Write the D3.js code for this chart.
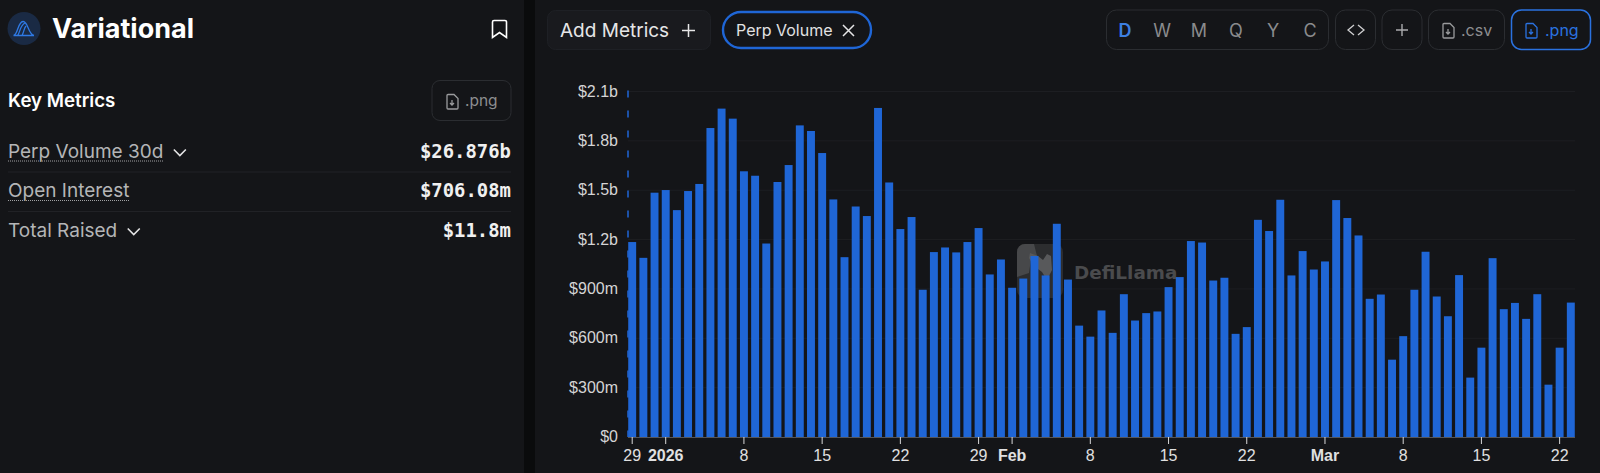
<!DOCTYPE html>
<html>
<head>
<meta charset="utf-8">
<script src="https://cdn.jsdelivr.net/npm/d3@7"></script>
<style>
html,body{margin:0;padding:0;background:#0a0b0c;overflow:hidden;}
svg{display:block;}
text{font-family:Inter,"Liberation Sans",sans-serif;}
</style>
</head>
<body>
<svg id="chart" width="1600" height="473"></svg>
<script>
// perp volume per day, in $m. starts on 29 Dec
var volumes = [1185,1089,1485,1501,1379,1495,1538,1878,1996,1935,1615,1588,1176,1550,1653,1894,1860,1726,1444,1093,1401,1343,2000,1547,1264,1337,895,1124,1152,1122,1185,1270,988,1079,907,963,1100,982,1296,957,677,610,769,633,868,708,753,763,911,972,1191,1182,951,968,627,668,1320,1252,1442,982,1130,1018,1067,1440,1331,1225,840,866,470,613,895,1126,854,734,984,361,543,1087,777,815,718,868,318,543,817];

var y_ticks = [0,300,600,900,1200,1500,1800,2100];
var y_labels = ["$0","$300m","$600m","$900m","$1.2b","$1.5b","$1.8b","$2.1b"];

// position in volumes -> label on the x axis
var x_tick_days = [0,3,10,17,24,31,34,41,48,55,62,69,76,83];
var x_tick_labels = ["29","2026","8","15","22","29","Feb","8","15","22","Mar","8","15","22"];
var x_bold_labels = ["2026","Feb","Mar"];

var metric_names = ["Perp Volume 30d","Open Interest","Total Raised"];
var metric_values = ["$26.876b","$706.08m","$11.8m"];
var period_names = ["D","W","M","Q","Y","C"];

var panel_bg = "#141518";
var blue = "#1f66d6";
var svg = d3.select("#chart");

// two panels
svg.append("rect").attr("x",-12).attr("y",-12).attr("width",536).attr("height",500).attr("rx",12).attr("fill",panel_bg);
svg.append("rect").attr("x",535).attr("y",-12).attr("width",1080).attr("height",500).attr("rx",12).attr("fill",panel_bg);

/* ---------- left side ---------- */
var left = svg.append("g");

left.append("circle").attr("cx",24).attr("cy",28.5).attr("r",16.5).attr("fill","#1a2a44");
left.append("path")
    .attr("d","M13.5 35.5 C18 35 17.5 22 23 21.5 C28 21 28 34 34 35.5 M17.5 35.5 C20 33 20 25 25 23 M22 35.5 C24 32 24 28 26 26 M13.5 35.5 H34")
    .attr("fill","none").attr("stroke","#2f7ae5").attr("stroke-width",1.3);

left.append("text").attr("x",52).attr("y",38).text("Variational")
    .attr("fill","#fff").attr("font-size",27).attr("font-weight",700);

// bookmark
left.append("path").attr("d","M494 20.5 h11 a1.5 1.5 0 0 1 1.5 1.5 v15.5 l-7 -5 l-7 5 v-15.5 a1.5 1.5 0 0 1 1.5 -1.5 z")
    .attr("fill","none").attr("stroke","#fff").attr("stroke-width",1.6);

left.append("text").attr("x",8).attr("y",107).text("Key Metrics")
    .attr("fill","#fff").attr("font-size",18.7).attr("font-weight",600);

function file_icon(g,x,y,color){
    var i = g.append("g").attr("transform","translate("+x+","+y+")")
        .attr("fill","none").attr("stroke",color).attr("stroke-width",1.3);
    i.append("path").attr("d","M1 1.5 a1 1 0 0 1 1 -1 h6 l4 4 v9.5 a1 1 0 0 1 -1 1 h-9 a1 1 0 0 1 -1 -1 z");
    i.append("path").attr("d","M6 6 v5 M4 9 l2 2 l2 -2");
}

left.append("rect").attr("x",432).attr("y",80.5).attr("width",79).attr("height",40).attr("rx",8)
    .attr("fill","none").attr("stroke","#2b2d31");
file_icon(left,446,94,"#9a9b9d");
left.append("text").attr("x",465).attr("y",106).text(".png").attr("fill","#8d8e90").attr("font-size",15.5);

var row_y = [157.5,197,236.5];
metric_names.forEach(function(d,i){
    var t = left.append("text").attr("x",8).attr("y",row_y[i]).text(d)
        .attr("fill","#b4b5b7").attr("font-size",19);
    var w = t.node().getComputedTextLength();
    if(i<2){
        left.append("line").attr("x1",8).attr("x2",8+w).attr("y1",row_y[i]+3.5).attr("y2",row_y[i]+3.5)
            .attr("stroke","#a0a1a3").attr("stroke-dasharray","1 1");
    }
    if(i!=1){
        var cx = 8+w+16.5;
        left.append("path").attr("d","M"+(cx-6)+" "+(row_y[i]-8)+" l6 6 l6 -6")
            .attr("fill","none").attr("stroke","#e4e4e5").attr("stroke-width",1.6);
    }
    left.append("text").attr("x",511).attr("y",row_y[i]).attr("text-anchor","end").text(metric_values[i])
        .attr("fill","#f0f0f0").attr("font-size",18.9).attr("font-weight",700)
        .style("font-family","'DejaVu Sans Mono','Liberation Mono',monospace");
    if(i<2){
        left.append("line").attr("x1",8).attr("x2",511).attr("y1",row_y[i]+14.5).attr("y2",row_y[i]+14.5)
            .attr("stroke","#212226");
    }
});

/* ---------- top buttons ---------- */
var top_bar = svg.append("g");

top_bar.append("rect").attr("x",547.5).attr("y",10.5).attr("width",163).attr("height",39).attr("rx",8)
    .attr("fill","#191a1e").attr("stroke","#1e2025");
top_bar.append("text").attr("x",560).attr("y",36.5).text("Add Metrics").attr("fill","#e6e6e7").attr("font-size",19);
top_bar.append("path").attr("d","M682 30.5 h13 M688.5 24 v13").attr("stroke","#e6e6e7").attr("stroke-width",1.5);

top_bar.append("rect").attr("x",723).attr("y",12).attr("width",148).attr("height",36).attr("rx",18)
    .attr("fill","none").attr("stroke",blue).attr("stroke-width",2.4);
top_bar.append("text").attr("x",736).attr("y",35.5).text("Perp Volume").attr("fill","#e2e2e3").attr("font-size",16);
top_bar.append("path").attr("d","M843 25 l11 11 M854 25 l-11 11").attr("stroke","#e6e6e7").attr("stroke-width",1.5);

var btn_stroke = "#2b2d31";
top_bar.append("rect").attr("x",1106.5).attr("y",10).attr("width",222).attr("height",39.5).attr("rx",10)
    .attr("fill","none").attr("stroke",btn_stroke);
var period_x = d3.scalePoint().domain(period_names).range([1125,1310]);
top_bar.selectAll(".period").data(period_names).join("text").attr("class","period")
    .attr("x",function(d){return period_x(d);}).attr("y",36.5).attr("text-anchor","middle").text(function(d){return d;})
    .attr("fill",function(d){return d=="D" ? "#3d7fe0" : "#8a8b8d";})
    .attr("font-size",18).attr("font-weight",function(d){return d=="D" ? 600 : 400;});

top_bar.append("rect").attr("x",1335.5).attr("y",10).attr("width",40).attr("height",39.5).attr("rx",10).attr("fill","none").attr("stroke",btn_stroke);
top_bar.append("path").attr("d","M1354 25 l-6 5 l6 5 M1358 25 l6 5 l-6 5").attr("fill","none").attr("stroke","#cfcfd0").attr("stroke-width",1.3);

top_bar.append("rect").attr("x",1382).attr("y",10).attr("width",40).attr("height",39.5).attr("rx",10).attr("fill","none").attr("stroke",btn_stroke);
top_bar.append("path").attr("d","M1396 30 h12 M1402 24 v12").attr("stroke","#aaabad").attr("stroke-width",1.4);

top_bar.append("rect").attr("x",1428.5).attr("y",10).attr("width",76).attr("height",39.5).attr("rx",10).attr("fill","none").attr("stroke",btn_stroke);
file_icon(top_bar,1442,23,"#9a9b9d");
top_bar.append("text").attr("x",1461).attr("y",36).text(".csv").attr("fill","#8d8e90").attr("font-size",16);

top_bar.append("rect").attr("x",1511.5).attr("y",10).attr("width",79).attr("height",39.5).attr("rx",10).attr("fill","none").attr("stroke","#2a72e0").attr("stroke-width",1.5);
file_icon(top_bar,1525,23,"#2a72e0");
top_bar.append("text").attr("x",1545).attr("y",36).text(".png").attr("fill","#2a72e0").attr("font-size",16);

/* ---------- chart ---------- */
var plot = {"left":628,"right":1575,"top":91.5,"bottom":437};

var x = d3.scaleBand().domain(d3.range(volumes.length))
    .range([plot.left,plot.right]).paddingInner(0.29).paddingOuter(0.02);
var y = d3.scaleLinear().domain([0,2100]).range([plot.bottom,plot.top]);

var y_axis = d3.axisLeft(y).tickValues(y_ticks).tickSize(0).tickPadding(0)
    .tickFormat(function(d,i){return y_labels[i];});
var y_ele = svg.append("g").attr("transform","translate(618,-0.5)").call(y_axis);
y_ele.call(g=>g.select(".domain").remove());
y_ele.selectAll("text").attr("fill","#d4d4d5").attr("font-size",16).style("font-family","'Liberation Sans',Arial,sans-serif");

// grid
svg.append("g").selectAll("line").data(y_ticks.slice(1)).join("line")
    .attr("x1",plot.left).attr("x2",plot.right)
    .attr("y1",function(d){return y(d);}).attr("y2",function(d){return y(d);})
    .attr("stroke","#1d1e22");

// watermark under the bars
var mark = svg.append("g");
mark.append("rect").attr("x",1017).attr("y",244).attr("width",46).attr("height",54).attr("rx",8).attr("fill","#2c2d2f");
mark.append("path").attr("d","M1017 252 a8 8 0 0 1 8 -8 h9 l3 12 l-6 3 l-2 14 l-12 4 z").attr("fill","#47484a");
mark.append("path").attr("d","M1030 253 l8 3 l5 4 l4 -6 l4 2 l1 14 l-5 10 l-5 -8 l-8 -6 l-5 -8 z").attr("fill","#58595b");
mark.append("text").attr("x",1074).attr("y",279).text("DefiLlama")
    .attr("fill","#4a4b4d").attr("font-size",18.4).attr("font-weight",700)
    .style("font-family","'DejaVu Sans',sans-serif");

svg.append("g").selectAll("rect").data(volumes).join("rect")
    .attr("x",function(d,i){return x(i);})
    .attr("y",function(d){return y(d);})
    .attr("width",x.bandwidth())
    .attr("height",function(d){return y(0)-y(d);})
    .attr("fill",blue);

// dashed line on the left edge
svg.append("line").attr("x1",plot.left).attr("x2",plot.left).attr("y1",plot.top-1).attr("y2",plot.bottom)
    .attr("stroke",blue).attr("stroke-width",1.5).attr("stroke-dasharray","7 13");

var x_axis = d3.axisBottom(x).tickValues(x_tick_days).tickSize(7).tickPadding(6).offset(-1)
    .tickFormat(function(d){return x_tick_labels[x_tick_days.indexOf(d)];});
var x_ele = svg.append("g").attr("transform","translate(0,"+plot.bottom+")").call(x_axis);
x_ele.select(".domain").attr("stroke","#55565a").attr("d","M"+plot.left+",0.5H"+plot.right);
x_ele.selectAll("line").attr("stroke","#d8d8d9");
x_ele.selectAll("text").attr("fill","#e0e0e1").attr("font-size",16)
    .style("font-family","'Liberation Sans',Arial,sans-serif")
    .attr("font-weight",function(d,i){return x_bold_labels.indexOf(x_tick_labels[i])>=0 ? 700 : 400;});
</script>
</body>
</html>
